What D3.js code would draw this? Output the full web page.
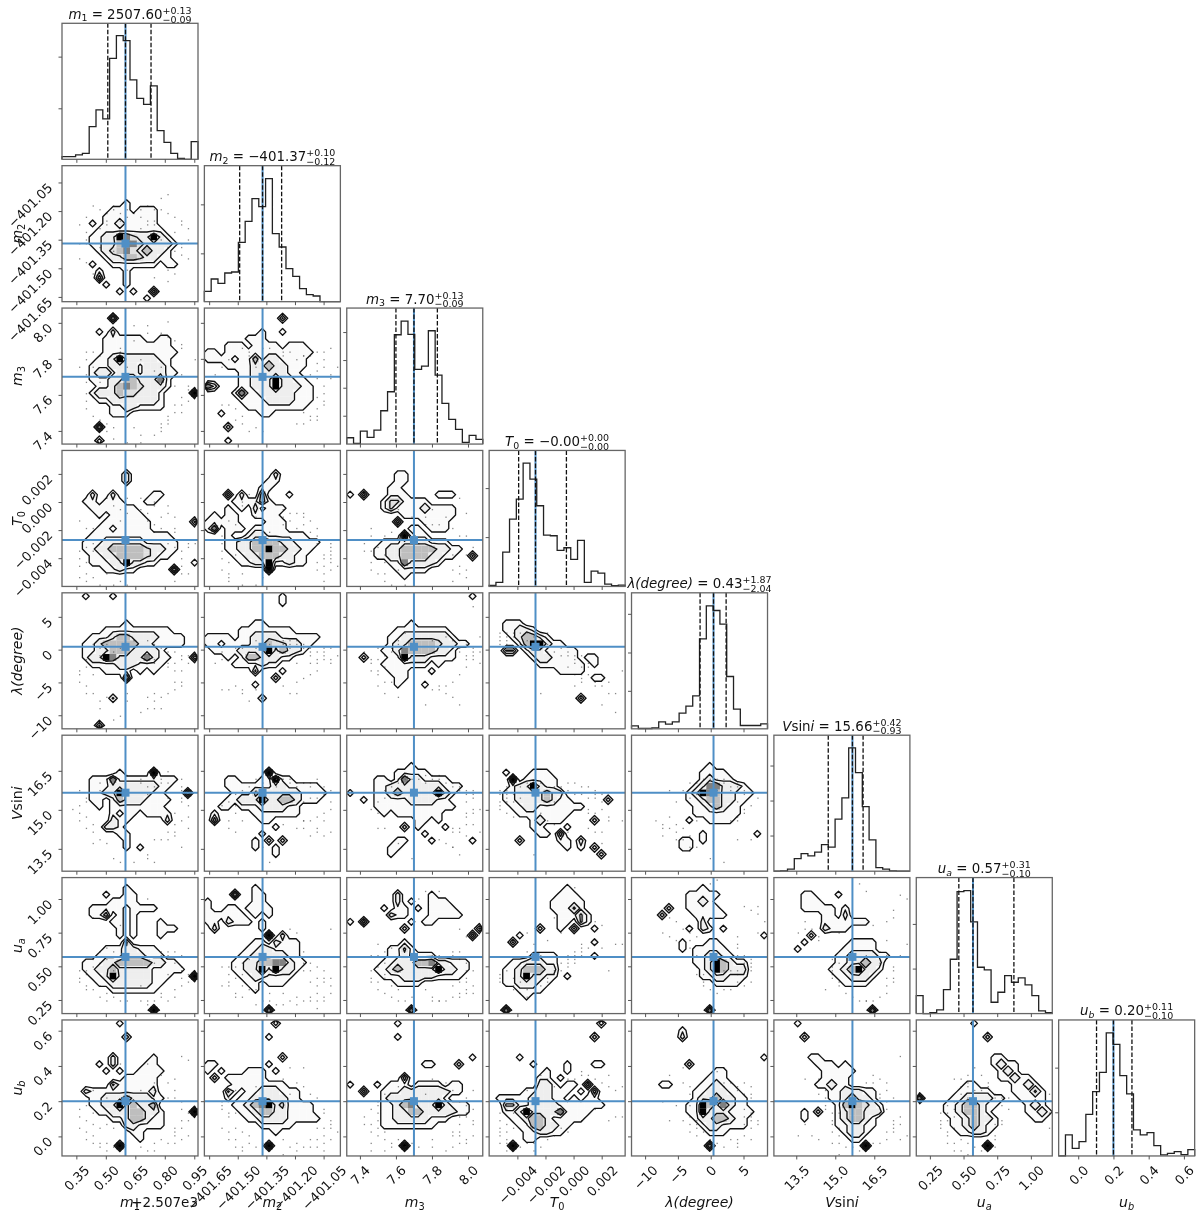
<!DOCTYPE html>
<html>
<head>
<meta charset="utf-8">
<script src="https://cdn.jsdelivr.net/npm/d3@7"></script>
<style>
html, body { margin: 0; background: #fff; }
svg { display: block; filter: blur(0.45px); }
text { font-family: "DejaVu Sans", sans-serif; fill: #111; }
</style>
</head>
<body>
<div id="chart"></div>
<script>
// parameter ranges
const axisLo = [0.277, -401.675, 7.327, -0.00601, -12.07, 12.64, 0.149, -0.111];
const axisHi = [0.969, -400.962, 8.082, 0.00367, 8.66, 17.87, 1.159, 0.661];
const truths = [0.60, -401.37, 7.70, -0.00271, 0.43, 15.66, 0.57, 0.20];
const q16 = [0.51, -401.49, 7.60, -0.00391, -1.62, 14.73, 0.465, 0.104];
const q84 = [0.73, -401.27, 7.83, -0.00051, 2.35, 16.07, 0.874, 0.305];

const ticks = [
  [0.35, 0.50, 0.65, 0.80, 0.95],
  [-401.65, -401.50, -401.35, -401.20, -401.05],
  [7.4, 7.6, 7.8, 8.0],
  [-0.004, -0.002, 0.000, 0.002],
  [-10, -5, 0, 5],
  [13.5, 15.0, 16.5],
  [0.25, 0.50, 0.75, 1.00],
  [0.0, 0.2, 0.4, 0.6]
];
const tickFormats = ['.2f', '.2f', '.1f', '.3f', 'd', '.1f', '.2f', '.1f'];

// [text, style] runs of each parameter name
const names = [
  [['m', 'i'], ['1', 'sub']],
  [['m', 'i'], ['2', 'sub']],
  [['m', 'i'], ['3', 'sub']],
  [['T', 'i'], ['0', 'sub']],
  [['λ(degree)', 'i']],
  [['V', 'i'], ['sin', ''], ['i', 'i']],
  [['u', 'i'], ['a', 'subi']],
  [['u', 'i'], ['b', 'subi']]
];
const titleValues = ['2507.60', '−401.37', '7.70', '−0.00', '0.43', '15.66', '0.57', '0.20'];
const titlePlus = ['+0.13', '+0.10', '+0.13', '+0.00', '+1.87', '+0.42', '+0.31', '+0.11'];
const titleMinus = ['−0.09', '−0.12', '−0.09', '−0.00', '−2.04', '−0.93', '−0.10', '−0.10'];

// histogram counts, arbitrary units, 20 bins per parameter
const hist_m1 = [8, 8, 13, 18, 98, 148, 121, 303, 371, 356, 238, 183, 165, 220, 86, 51, 18, 3, 0, 53];
const hist_m2 = [31, 68, 55, 86, 89, 178, 241, 309, 285, 369, 204, 164, 99, 76, 39, 21, 17, 0, 0, 0];
const hist_m3 = [19, 2, 39, 20, 42, 100, 157, 328, 369, 329, 224, 234, 340, 207, 122, 74, 44, 5, 26, 14];
const hist_t0 = [3, 12, 103, 202, 262, 370, 322, 242, 154, 152, 108, 116, 81, 138, 12, 46, 40, 7, 2, 4];
const hist_la = [9, 1, 1, 3, 21, 14, 21, 47, 68, 99, 270, 369, 355, 314, 157, 59, 10, 10, 10, 15];
const hist_vs = [0, 1, 6, 38, 53, 46, 57, 80, 72, 156, 220, 370, 296, 194, 94, 11, 6, 1, 0, 0];
const hist_ua = [54, 0, 3, 11, 72, 163, 366, 369, 275, 139, 131, 34, 64, 114, 94, 107, 86, 54, 8, 3];
const hist_ub = [0, 63, 23, 43, 125, 193, 251, 369, 335, 241, 186, 78, 63, 70, 31, 3, 8, 13, 4, 19];
const hists = [hist_m1, hist_m2, hist_m3, hist_t0, hist_la, hist_vs, hist_ua, hist_ub];
const histTicks = [[153, 308], [145, 292], [85, 169, 252, 336], [148, 295], [114, 229, 345], [107, 212, 317], [135, 269], [131, 265]];

// 2d histogram levels, top row first, one digit per bin, '.' = empty
const grid_m2_m1 = ["", "", "", "", "", ".........3", ".......333.333", "......33333333", "....3.33533333", ".....3333333333", "....335598655953", "....3355788655553", ".....35678657553", "......3557765533", "....3..3333333.33", ".....3...3", ".....7...3", "......3..3", "........3.3..7", "............3"];
const grid_m3_m1 = ["", ".......8", "", ".....3.5", "......333333..33", "......3333333333", "......33333333333", ".....33595555533", "....333555535553", "....3553555355533", "....333557755583", ".....33578765553", "....35557665553....9", ".....3355555553", ".......33553333", ".......333", "", ".....8", "", ".....5"];
const grid_t0_m1 = ["", "", "", ".........5", ".........5", "", "....5..5.....33", "...33.333...33", "....3333333", ".....3.33333", "......3333333......6", ".....33.33333", "....333333333333", "...33355555533333", "...33557777765533", "....335577776533", "....3335595533.....3", "......33533.....8", "", ""];
const grid_la_m1 = ["...3...3", "", "", "", ".........3", "......3333333333", "....33357755553333", "...335777775533333", "...335577755553", "...3559855558533...7", "....33335553333", "......3333.3.3", ".........8", "", "", ".......4", "", "", "", ".....6"];
const grid_vs_m1 = ["", "", "", "", "", "........3....9", "....3338333333333", "....333555555533", "....33559555533...8", "....33.375553333", ".....3.33333333", ".......3.33.3333", ".......533.....5", "......553", "........33", ".........3", ".........3.3", ""];
const grid_ua_m1 = ["", ".........3", "......3..33", ".......3333", "....33333.3333", "....337.3.3", ".......33.3...3", "........3.3...333", "........3.3...3", ".........6", "......33355333", ".....3333555333", "...33355777775533", "...335575555533333", "....335955555333...9", ".....3355555533", ".......3333333", "", "", ".............9"];
const grid_ub_m1 = ["........3", "", ".........5", "", "", ".......5.....3", ".....3.5....33", "......3.3..3333", ".........33333", ".......6333333", "...53333333335", "....33555755533", "....3355957557", ".....3355577553....9", ".......33577533", ".........553333", "..........33", "...........3", "........9", ""];

const grid_m3_m2 = ["", "...........6", "", "........3..3", "......333", "...333.3333.333", "33.3333333333333", "3333.3373553333", "...333355755333", ".....335555533", ".....3355595533", "85...33555955533", "....383355555333", ".....33335555333", "......333333333", "..3.....33", "", "...5", "", "...3"];
const grid_t0_m2 = ["", "", "", "..........5", ".........33", "........33", "...7.5..7...3", "....333373", "...3.3.5.333", ".3.33..3333", "33333....333", "38.333.33333", "...3..355333333", "...33557777553333", "...3355779775533", "....33557775533", ".....3355933533", ".........9", "", ""];
const grid_la_m2 = ["...........3", "...........3", "", "", ".......33", ".....33333333", "3333.335555333333", "33.3333557665533", ".33335555957553", "...3.37755533", "....3333533", ".......6...3", "..........5", ".......3", "", "........4", "", "", "", ""];
const grid_vs_m2 = ["", "", "", "", "", ".........9", "...33...33933", "...33333335533333", "....33365555553333", "...33555955775333", "..33.333555533", ".3.....3333333", ".7......33", "..........3", "........3", ".......3.5.5", ".......3..3", "..........3", "", ""];
const grid_ua_m2 = ["", ".......3", "....8..33", "3......33", "3..33.3333", "333333.3.3", "33.5333.3", ".5......3", ".........9.5", ".......33.5333", "......33553333", ".....335555533", "....33557788533", "....3355959553", ".....33553333", "......33.333", ".......3", "", "", ".........8"];
const grid_ub_m2 = ["..........5", "", ".........3", "", "", "...........5", "33.......3", "3.3...333.3", ".5.333333", "....33333333", "...63.33555333", "...3.335555533", "....335789563333", ".....33577553333", "......33555533333", "........33333", "..........3", "", ".........9", ""];

const grid_t0_m3 = ["", "", "", ".......33", ".......33", "......33", "3.7...333....333", ".....3663333", ".....36333353333", "........33333333", ".......7...3333", ".........33.333", "........9.33", ".....3335555333", "....3355777775533", "....335577775533..6", "......33855553", ".......33333", "........3", ""];
const grid_la_m3 = ["..................3", "", "", "", ".........3", ".......33333333", "......3355555553", "......355777765533", ".....33587777553", "..5...3395553333", ".....3333333.3", "......333...3", ".......33", ".......3...3", "", "", "", "", "", ""];
const grid_vs_m3 = ["", "", "", "", ".........3", ".......33333", "....33.38553333", "....3355555555333", "3...335755555953", "..3.33333555533", "....333333333333", ".....3.3333333", "..........33.3", "........5.3...3", "...........3", ".......33...3.....3", "......33", "......3", ""];
const grid_ua_m3 = ["", "", ".......5....3", ".......5.3..333", ".....3.33.3.3333", "......533...33333", "3.7......3.33", "........5..........6", "..................7", "........3", "......3363", "......3353333", ".....3355577855333", "....33575555595533", ".....333555553333", ".......3333", "", "", "", ".........8"];
const grid_ub_m3 = [".......3", "", ".......3", "", "", "..................3", "...........33...5", "", "........7", "3...3.333.3333.33", "..7..333555555533", ".....3555555553", ".....3357855595333", ".....3355775555533", ".....3355555333", ".....33333333", "", "", "........9", ""];

const grid_la_t0 = ["", "", "", "", "..333", "..33553", "...357753", "....3799533", "..66.35533333", "......3553333.33", ".......3333333.3", "..........3333", "...............33", "", "", ".............6", "", "", "", ""];
const grid_vs_t0 = ["", "", "", "", "", "..3...333", "...9.33333", "...3559533", "..335555755", "..3355557533.....5", "...33553333333", "....33333333", "......35333....5", "......33...3", ".......33.7", "....5.....33.5", "...........3.3.5", "................5", "", ""];
const grid_ua_t0 = ["", "...........3", "..........333", ".........33333", ".........33363", "..........33363", "..........33.63", ".......5..3.6..3", "....3", "...6...........3", "", "......3333.....3", "...3355533", "..33577755", "..33595533.3", "..3355533", "....3333", ".....3", "", "..8"];
const grid_ub_t0 = ["................5", "", "...............5", "", "", "....3", "......3....3...33", "........3..3", ".......33.3", ".......553.33.7", ".....3355333.3.7", ".3333355533.3.33", "..663355553333333", "..3359555583333", "...33577533333", "....33775533", ".....335533", ".....33", "...9", ""];

const grid_vs_la = ["", "", "", "", "...........3", "..........3333", "..........35333", ".........35885553", "........3598755333", "........335775533", ".........3357533", ".........3333333", "........3..3333", "", "..........3.......3", ".......33.3", ".......33", "", "", ""];
const grid_ua_la = ["", "..........3", "........33333", "........3353", ".....5..33333", "....5....33333", "..........5", "........3.53.3", "...................3", ".......3...33", ".......3.33333", ".........335533", ".........33597533", "..........3597555", "..........3355333", "............3333", "", "", "", "...........8"];
const grid_ub_la = ["", ".......3", ".......5", "", "", "...................3", "........5", "............33", "...........333", "....33....33533", ".........3355533", ".........35575533", "........339758533", "........3395553333", ".........35577533", "..........3553333", "...........333", "", "...........8", ""];

const grid_ua_vs = ["", "", "....33...3", "....333", "....33333.3", ".......33.5", ".......3333333", ".......5333", ".....5", "....3......3333", "...3......33333", ".........33555533", ".........3355755", "........33579553", ".........335553", "..........3333", "", "", "", "..............8"];
const grid_ub_vs = ["...3", "", "....5", "", "", ".....33", "......333.3", ".......33333", ".......3333", "......33533", "........3355533", "........3357553", ".........3797653", "....3.5..3577555", "....3....357753", ".........335533", "..........3553", "...........33", ".............9", ""];

const grid_ub_ua = ["........3", "", "..........5", "", "", "...........33", "...........3533", "............353", "............33533", ".......33.....3353", "......33333...33363", "8....33555533..3333", "....33577533....353", "....3357753.....3353", ".....3357553.....33", ".....3357533", "......33553", "", "..........9", ""];

// leftover samples outside the contours, two base-36 digits per point: x in 20ths, y in 36ths from the top
const dots_m2_m1 = "4a 3d 2f 5g 3j 8c 9d bb cf de df 5l 7m bg ce 9r dp fr 6f 8e ej fl gh 4q dt f7 e8 gm hl 6e 7b bd 2o hk 5b 6c 7a 9b ac ca db eb fc gd he hf ig ij hn io gq 3k 2k 3h 4e 3p 4s 5u fu gs";
const dots_m3_m1 = "3d 2f 4n 6u 8a 9f bd dg ev fs gp hr 4f 3m a4 c4 e6 f3 gk io jd bx av 5j 7v ef fu hp 3b 4b 5c 8b a8 c6 f7 g8 h9 ha hh ik il hn gr ft eu 3h 3j 3o 3q 4s 5t 5u 6w 7y 9z bz dx ew";
const dots_m3_m2 = "3d 2f 5a 6b 9a bc dd ge gi hf hk hm gq fs gt er 5s 7v 8w 4l fh ia jf hd ec 7f gn 1h 1j 6c 7c 8a bb cb ec fc gb hb gg ii ih ho hp gs ft eu du 5u 6w 4t 4q 3p 2p";
const dots_t0_m1 = "7e 4k 3p 6c 8f 8i 9g bc de gk fo gp hq hu iw dl dd 5h 3t 4x 6w 8y fe ek 3k jo gu 6g 9c 2q 2s 2u 2x 3w 3y 5z 7z 9z gy hw hs ip io gl gh fg eh ci dj 3n 4o 4q bf cg 2i";
const dots_la_m1 = "6d 7f 5g 3h 2k 4l dh 7x 9s ae di fj gk gn ho gi cr ds 5s 8w 5u bv 9q eu cu dq fi hk 4d 5e 8e 9e ac cc dd ee ff gf hg hh ig jh ii hn gp fq er du 3j 2l 2n 3o 3q 4q 6r";
const dots_vs_m1 = "6b 5c 8e 9a cf ec fg gk gn fp dr cw 5r 4n 3l 6s 7w 8x ax ht cv dx f9 hh 5e hb io 2e 3g 3h 2i 1j 2k 2m 3o 4p 4s bb bc cd dd eb fc hd he hg ii il hm gp gq fr er";
const dots_ua_m1 = "6l 5m 4n 3p 7o 8k ek fk gl gm hq hs eu ev dw 5s 6u 7v 9w cw bs 4a 8c c5 dm 2o hn fp 3o 2q 2r 3s 3t 4t 5v 6w 8w bw cx dx fw gv gt ho ip ir hk gj fj ej 4l 5j 6i 7j";
const dots_ub_m1 = "5l 6k 4o 3q 6r 7s bi di fk gi hn hq gs gu ev dw 6y 5s 4r 4i cb dg h9 ia hs 8b 3m gw gt 2n 2p 2s 3t 3v 4u 4w 5w 5x 6w 7x 8y bx cy dy fw hv iu iq io hl gk fg gf ee";
const dots_t0_m2 = "5d 8e 3i 4j 7h 9l ci dg ej fl gm go hr hu gv hw iq 2o 3t 3w 5w 8x bj dk eg 9a 4r 5e 2q 2s 2v 3x 3y 5z 7z hy iv is ir ip io hn gk fi eh cg bh 2m 3n bf 6b hs gt it ju";
const dots_la_m2 = "8d 9d bd cd dd ee ff fg gh gi hf ie ii 5e 4e 6f 2f 5q 6s 7p cg bf ce 9g di fi 7e 8e ac bc cc dc ed fe gf he hg hh ih jg gk fl em dn 3p 4o 5p bo cq dq 2h 1i 2p 7c";
const dots_vs_m2 = "7b 8c 9b ad cb dd fd gc gg hf hk gl fm em em 4k 3m 5m 9x 8t bn do eo hq ip fg eh 2i 3h 4i 4f 5f 5e 6d 7e 8d ab bb cc dc ec fc gb hd ie ih ij hm go gp fq 3o 4p 9s";
const dots_ua_m2 = "4q 5p 5s 6t 7t 9u bu dv ew fv gw hw gs gq 3p 2s fr gu hr id cd de ej bx ax fo eo 3r 3s 4u 4v 5v 7x 8w 9w cw dx fw gy hv iu is iq hq ho gn fm em 2n 3n 4n 5m 6l";
const dots_ub_m2 = "2n 3o 4o 3p 4s 5t 6u 5x 6w bv cx dw ex fv hu gv hw gs ir iq ho cj cc bf 8g 4i 7h hn ec 2s 3t 3v 4v 4x 5y 7x 8w 9y bz dy fx gx hy iv jt is hs gk fj eh dg 3k 2l 2m";
const dots_t0_m3 = "6g 7j 4p 5r 6l 3k cf 9h fr hm fv gu hr 5t 5w 7v 7f gc 9n bj 2o eh fn hn hg 3q 2q 3t 3v 4w 5y 4s 6z 8z fy gw hx hv ir ip gn gm fk dj cj bh ao 4n 5n 5m 3m";
const dots_la_m3 = "7c 8a 6f 5j 4k 4e 3k 2f 4l hg ig hh ih jb hc i3 gf ge fe 5q 6n cp do eq fr gt 7d 6e 5g 4h 3h 3i cc dc eb fc gc hd ie if jf ji hj gl fn eo dp 5n 4o 7r bt";
const dots_vs_m3 = "7b 8b 9b ab bc cb db fc ge hf hh if hk hl gp hq in jp fp 6c 5e 4h 5g 9w cs ft gv 6d 7c 8a ba ca da ec fd gd he ie ig jj ij ik hn go fo dr es ft 3j 4k 4o 5o 7s";
const dots_ua_m3 = "6i 4h 5j 4n 5q 6s 7t bt cv ew fs gq gr hm io 2c 5p 3r hu gv iu hr fj gj bc dw 7w 3o 3q 4r 4t 5u 6v 8w 9v cw dw fv gu ht is hq ho gl fk dk ck 5m 4k 3k a5 b3 d3 gd hf";
const dots_ub_m3 = "5j 4l 4o 4q 5t 7v 9w cv fu gt gr gp hp ii 2p 3w 5y 6w hw ft gu ir ho hk eg 7h bj 3r 3t 4s 4u 5v 6x 8x ax cx ey fx gw hv iu iq in hm gl gj fi dh cf 4m 3n 2r 3y";
const dots_la_t0 = "2a 2b 3b 1a 1b 2c 1c 5a 5c 8f 9f ch cg dg 8a bj ci dj dl fn fo go hq 7q jk 3a 4a 2d 1d 6b 7c 7e 8d ae bf bg ei ej fl dm el gt hn iq iv 4d ag cl co dn";
const dots_vs_t0 = "3f 4d 2e 2g 2f 1h 3h 5d 6e 8e ad bc cc fe ff gf gh jm ej ek eo fp gs gp 6v 9h 2d 1e 1f 2h 1i 1j 2k 3l 4g 5c 7c 9d be dd eg ed cf df fg gj fk hl hm 7k 8m 9n ar bp";
const dots_ua_t0 = "2o 1p 3q 4r 5t 8q 9o ao cm dk dj cl 8g 5e 3h ae fh gi ih jh 3s 1r 6u ck bl 1q 2s 3t 4u 5v 7s 8r 9p bn bm bk cj dh di ei fg 6h 5j 9a c2 fb gc ho am 7k";
const dots_ub_t0 = "2n 1o 1q 2r 3s 1u 2v 3w 4x 6y 4j 5i 7e 8f 9h dd ee hh ii jp fj 2t fn ei dq 1s 1t 1w 2w 2y 3y 5w 6w 7x 8v 9u as bt 3o 3n 3l 5l 6k bf cf de ff gg jh he ip hq";
const dots_vs_la = "8g 9f 7e 5e 6h 4n 5o 6n 8q 9m ee fd fe hi ig 4q 9t 7o 6r fm iq 8t 5l ce 8c 9c ab bb cb db dc ed fc gf ge fh gj gk fl em 6p 7r 3m 4o 8u bw dx fr hr";
const dots_ua_la = "5a 6b 7d 8g 8i 9k 9n do eo fp fo gq hn hm i7 ie gm hr ho 4e 5f ba ff fs 9p ap ar as bt cu dt et fr gs hl gl gk fk fi fh 9f 8e 6g b1 c0 g7 h8 i9 jb";
const dots_ub_la = "7g 8h 8m 9q 9s 9r gg gp hq ho iq ir gu hv hk fx fv hj 8j 7c 5e dc hh bw 8p 8r 8t 9u at bv cw dx ev fw gs gr hs hp gn gj fi eg dh dg cd fh 6m 4l 5q 7q";
const dots_ua_vs = "5d 6f 4b 7c 9e 8l 9m 8n bl fm gg gq hr ho ik jh 6g c1 d3 gb 9r dw ew 7t 8o 8p 8q 9s au bv cw dw fv gu gs hq hn gk fj ej dk cm 3e 4d i4 j5 h8 ha ec";
const dots_ub_vs = "6j 6f 7i 7m 8q 9s 8w gn hk hq ht iv ju hr fk gg i9 gi dg 4f 6v 9o bx ew 7k 8l 7n 8o 8r 8t 9u 9w ax cy dy fw gv gt hs ir ip gl fj eg ee ff 4r 3u 5u 9z";
const dots_ub_ua = "6j 7k 5l 4m 4o 5p 4q 5s 6v 7w 8x 9y 9i ah bj ck cm cr 5n 6h 7g dn dk jj js 3o 3q 3r 3s 4t 4u 4w 5w 5y 6y 7z 8i 7h 6f 5f 7e 9e bk cq br bu bv bx ag 8c jo";

const panels = [
  [0, 1, grid_m2_m1, dots_m2_m1], [0, 2, grid_m3_m1, dots_m3_m1], [0, 3, grid_t0_m1, dots_t0_m1],
  [0, 4, grid_la_m1, dots_la_m1], [0, 5, grid_vs_m1, dots_vs_m1], [0, 6, grid_ua_m1, dots_ua_m1],
  [0, 7, grid_ub_m1, dots_ub_m1], [1, 2, grid_m3_m2, dots_m3_m2], [1, 3, grid_t0_m2, dots_t0_m2],
  [1, 4, grid_la_m2, dots_la_m2], [1, 5, grid_vs_m2, dots_vs_m2], [1, 6, grid_ua_m2, dots_ua_m2],
  [1, 7, grid_ub_m2, dots_ub_m2], [2, 3, grid_t0_m3, dots_t0_m3], [2, 4, grid_la_m3, dots_la_m3],
  [2, 5, grid_vs_m3, dots_vs_m3], [2, 6, grid_ua_m3, dots_ua_m3], [2, 7, grid_ub_m3, dots_ub_m3],
  [3, 4, grid_la_t0, dots_la_t0], [3, 5, grid_vs_t0, dots_vs_t0], [3, 6, grid_ua_t0, dots_ua_t0],
  [3, 7, grid_ub_t0, dots_ub_t0], [4, 5, grid_vs_la, dots_vs_la], [4, 6, grid_ua_la, dots_ua_la],
  [4, 7, grid_ub_la, dots_ub_la], [5, 6, grid_ua_vs, dots_ua_vs], [5, 7, grid_ub_vs, dots_ub_vs],
  [6, 7, grid_ub_ua, dots_ub_ua]
];

var width = 1200,
height = 1217,
left0 = 62,
top0 = 23.3,
step = 142.38,
size = 136,
bins = 20;

const blue = '#4f8fc6';
const levels = [1.5, 3.5, 5.5];
const greys = ['#fff', '#fff', '#fdfdfd', '#fafafa', '#f3f3f3', '#eeeeee', '#e0e0e0', '#bebebe', '#808080', '#000'];

const svg = d3.select('#chart').append('svg').
attr('width', width).
attr('height', height).
style('background-color', '#fff');

const xS = axisLo.map((lo, i) => d3.scaleLinear().domain([lo, axisHi[i]]).range([0, size]));
const yS = axisLo.map((lo, i) => d3.scaleLinear().domain([lo, axisHi[i]]).range([size, 0]));
const binX = i => b => axisLo[i] + b / bins * (axisHi[i] - axisLo[i]);
const binY = i => b => axisHi[i] - b / bins * (axisHi[i] - axisLo[i]);

// rotated labels: bbox corner sits next to the axis, like matplotlib with rotation=45
function labelX(sel) {
  sel.selectAll('text').attr('font-size', 13).attr('text-anchor', 'middle').attr('x', 0).attr('y', 0).attr('dy', '.35em').
  attr('transform', function () {
    const b = (this.getComputedTextLength() + 9.5) * 0.3535;
    return 'translate(0,' + (8.5 + b) + ') rotate(-45)';
  });
}
function labelY(sel) {
  sel.selectAll('text').attr('font-size', 13).attr('text-anchor', 'middle').attr('x', 0).attr('y', 0).attr('dy', '.35em').
  attr('transform', function () {
    const b = (this.getComputedTextLength() + 9.5) * 0.3535;
    return 'translate(' + (-8.5 - b) + ',' + (b - 1) + ') rotate(-45)';
  });
}

function styleAxis(g) {
  g.select('.domain').remove();
  g.selectAll('line').attr('stroke', '#555').attr('stroke-width', 1);
}

// returns the dy still owed after a trailing subscript
function addRuns(text, runs, fs) {
  let owed = 0;
  runs.forEach(r => {
    const t = text.append('tspan').text(r[0]);
    if (r[1].indexOf('i') >= 0 && r[1] != 'sub') t.attr('font-style', 'italic');
    if (r[1].indexOf('sub') == 0) {
      t.attr('font-size', fs * 0.7).attr('dy', fs * 0.2);
      owed = -fs * 0.2;
    } else if (owed) {
      t.attr('dy', owed);
      owed = 0;
    }
  });
  return owed;
}

function drawFrame(g, c, r) {
  g.append('rect').attr('width', size).attr('height', size).
  attr('fill', 'none').attr('stroke', '#666').attr('stroke-width', 1.3);
  const xa = g.append('g').attr('transform', 'translate(0,' + size + ')').
  call(d3.axisBottom(xS[c]).tickValues(ticks[c]).tickSize(3.5).tickPadding(0).
  tickFormat(r == 7 ? d3.format(tickFormats[c]) : ''));
  styleAxis(xa);
  if (r == 7) xa.call(labelX);
  else xa.selectAll('text').remove();
}

// off-diagonal panels
panels.forEach((p, k) => {
  const c = p[0], r = p[1];
  const rows = p[2].map(s => s.padEnd(bins, '.').slice(0, bins));
  const values = rows.flatMap(s => s.split('').map(ch => ch == '.' ? 0 : +ch));
  const g = svg.append('g').attr('transform', 'translate(' + (left0 + c * step) + ',' + (top0 + r * step) + ')');
  const clipId = 'clip' + k;
  g.append('clipPath').attr('id', clipId).append('rect').attr('width', size).attr('height', size);
  const body = g.append('g').attr('clip-path', 'url(#' + clipId + ')');

  const cellX = binX(c), cellY = binY(r);
  const cells = [];
  values.forEach((v, n) => { if (v >= 2) cells.push({ col: n % bins, row: Math.floor(n / bins), v: v }); });
  body.selectAll('rect.cell').data(cells).enter().append('rect').attr('class', 'cell').
  attr('x', d => xS[c](cellX(d.col))).
  attr('y', d => yS[r](cellY(d.row))).
  attr('width', size / bins + 0.2).
  attr('height', size / bins + 0.2).
  attr('fill', d => greys[d.v]);

  const samples = p[3].split(' ').map(s => [parseInt(s[0], 36) + 0.5, (parseInt(s[1], 36) + 0.5) / 36 * bins]);
  body.selectAll('rect.dot').data(samples).enter().append('rect').attr('class', 'dot').
  attr('x', d => xS[c](cellX(d[0]))).
  attr('y', d => yS[r](cellY(d[1]))).
  attr('width', 1.3).attr('height', 1.3).
  attr('fill', '#555').attr('opacity', 0.7);

  const path = d3.geoPath(d3.geoTransform({
    point: function (x, y) { this.stream.point(xS[c](cellX(x)), yS[r](cellY(y))); }
  }));
  const contours = d3.contours().size([bins, bins]).thresholds(levels)(values);
  body.selectAll('path').data(contours).enter().append('path').
  attr('d', path).
  attr('fill', 'none').attr('stroke', '#111').attr('stroke-width', 1.35).attr('stroke-linejoin', 'round');

  body.append('line').attr('x1', xS[c](truths[c])).attr('x2', xS[c](truths[c])).attr('y1', 0).attr('y2', size).
  attr('stroke', blue).attr('stroke-width', 2);
  body.append('line').attr('y1', yS[r](truths[r])).attr('y2', yS[r](truths[r])).attr('x1', 0).attr('x2', size).
  attr('stroke', blue).attr('stroke-width', 2);
  body.append('rect').attr('x', xS[c](truths[c]) - 4).attr('y', yS[r](truths[r]) - 4).attr('width', 8).attr('height', 8).
  attr('fill', blue);

  drawFrame(g, c, r);
  const ya = g.append('g').call(d3.axisLeft(yS[r]).tickValues(ticks[r]).tickSize(3.5).tickPadding(0).
  tickFormat(c == 0 ? d3.format(tickFormats[r]) : ''));
  styleAxis(ya);
  if (c == 0) ya.call(labelY);
  else ya.selectAll('text').remove();
});

// diagonal histograms
hists.forEach((counts, i) => {
  const g = svg.append('g').attr('transform', 'translate(' + (left0 + i * step) + ',' + (top0 + i * step) + ')');
  const yH = d3.scaleLinear().domain([0, 408]).range([size, 0]);
  const edges = d3.range(bins + 1).map(binX(i));
  const pts = [[edges[0], 0]].concat(counts.map((v, b) => [edges[b], v]), [[edges[bins], counts[bins - 1]], [edges[bins], 0]]);
  const line = d3.line().x(d => xS[i](d[0])).y(d => yH(d[1])).curve(d3.curveStepAfter);

  g.append('line').attr('x1', xS[i](truths[i])).attr('x2', xS[i](truths[i])).attr('y1', 0).attr('y2', size).
  attr('stroke', blue).attr('stroke-width', 2);
  g.append('path').datum(pts).attr('d', line).attr('fill', 'none').attr('stroke', '#222').attr('stroke-width', 1.3);
  [q16[i], truths[i], q84[i]].forEach(q => {
    g.append('line').attr('x1', xS[i](q)).attr('x2', xS[i](q)).attr('y1', 0).attr('y2', size).
    attr('stroke', '#111').attr('stroke-width', 1.3).attr('stroke-dasharray', '4.5,2');
  });

  drawFrame(g, i, i);
  const ha = g.append('g').call(d3.axisLeft(yH).tickValues(histTicks[i]).tickSize(3.5).tickFormat(''));
  styleAxis(ha);
  ha.selectAll('text').remove();

  // title: name = value with stacked errors
  const t = g.append('text').attr('y', -4.5).attr('font-size', 13.4);
  const owed = addRuns(t, names[i], 13.4);
  t.append('tspan').attr('dy', owed || null).text(' = ' + titleValues[i]);
  const up = g.append('text').attr('y', -9.5).attr('font-size', 9.5).text(titlePlus[i]);
  const dn = g.append('text').attr('y', -0.8).attr('font-size', 9.5).text(titleMinus[i]);
  const mainW = t.node().getComputedTextLength();
  const subW = Math.max(up.node().getComputedTextLength(), dn.node().getComputedTextLength());
  const x0 = size / 2 - (mainW + subW) / 2;
  t.attr('x', x0);
  up.attr('x', x0 + mainW);
  dn.attr('x', x0 + mainW);

  // axis labels
  const xl = svg.append('text').attr('x', left0 + i * step + size / 2).attr('y', 1207).
  attr('text-anchor', 'middle').attr('font-size', 14);
  addRuns(xl, names[i], 14);
  if (i > 0) {
    const yy = top0 + i * step + size / 2;
    const yl = svg.append('text').attr('text-anchor', 'middle').attr('font-size', 14).
    attr('transform', 'translate(22,' + yy + ') rotate(-90)');
    addRuns(yl, names[i], 14);
  }
});

// offset text of the first axis
svg.append('text').attr('x', left0 + size).attr('y', 1207).attr('text-anchor', 'end').attr('font-size', 13.5).text('+2.507e3');
</script>
</body>
</html>
